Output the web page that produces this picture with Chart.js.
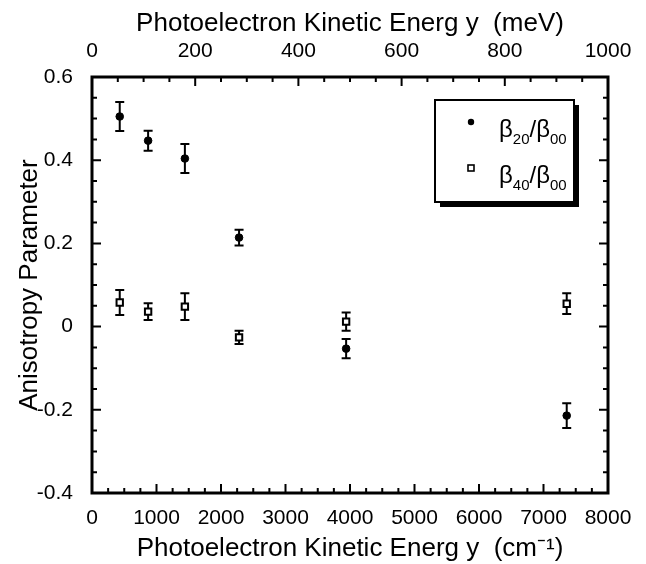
<!DOCTYPE html>
<html>
<head>
<meta charset="utf-8">
<script src="https://cdn.jsdelivr.net/npm/chart.js@4.4.1/dist/chart.umd.min.js"></script>
<style>
  html, body { margin: 0; padding: 0; background: #fff; }
  #wrap { width: 646px; height: 564px; }
</style>
</head>
<body>
<div id="wrap"><canvas id="plot" width="646" height="564"></canvas></div>
<script>
// photoelectron kinetic energy (cm^-1)
const energyCm = [430, 870, 1440, 2280, 3940, 7360];
// beta20 / beta00 with error
const beta20 = [0.505, 0.447, 0.404, 0.214, -0.053, -0.214];
const beta20Err = [0.035, 0.024, 0.035, 0.019, 0.023, 0.03];
// beta40 / beta00 with error
const beta40 = [0.058, 0.036, 0.048, -0.026, 0.012, 0.055];
const beta40Err = [0.03, 0.02, 0.032, 0.016, 0.022, 0.025];

const FONT = "'Liberation Sans', Arial, sans-serif";

function toPoints(xs, ys) {
  return xs.map((x, i) => ({ x: x, y: ys[i] }));
}

const errorBarPlugin = {
  id: "error_bars",
  beforeDatasetsDraw: (chart) => {
    const ctx = chart.ctx;
    const yScale = chart.scales.y;
    ctx.save();
    ctx.strokeStyle = "#000";
    ctx.lineWidth = 2;
    chart.data.datasets.forEach((ds, i) => {
      const meta = chart.getDatasetMeta(i);
      meta.data.forEach((el, j) => {
        const v = ds.data[j].y;
        const e = ds.errors[j];
        const yTop = yScale.getPixelForValue(v + e);
        const yBot = yScale.getPixelForValue(v - e);
        ctx.beginPath();
        ctx.moveTo(el.x, yTop);
        ctx.lineTo(el.x, yBot);
        ctx.moveTo(el.x - 4.5, yTop);
        ctx.lineTo(el.x + 4.5, yTop);
        ctx.moveTo(el.x - 4.5, yBot);
        ctx.lineTo(el.x + 4.5, yBot);
        ctx.stroke();
      });
    });
    ctx.restore();
  },
};

const frameTicksPlugin = {
  id: "frame_ticks",
  afterDraw: (chart) => {
    const ctx = chart.ctx;
    const a = chart.chartArea;
    const x = chart.scales.x;
    const x2 = chart.scales.x2;
    const y = chart.scales.y;
    ctx.save();
    ctx.strokeStyle = "#000";
    ctx.lineWidth = 2;
    ctx.beginPath();
    // bottom axis: major every 1000, minor every 250
    for (let k = 0; k <= 32; k++) {
      const px = x.getPixelForValue(k * 250);
      const len = k % 4 === 0 ? 9 : 5;
      ctx.moveTo(px, a.bottom);
      ctx.lineTo(px, a.bottom - len);
    }
    // top axis: major every 200, minor every 50
    for (let k = 0; k <= 20; k++) {
      const px = x2.getPixelForValue(k * 50);
      const len = k % 4 === 0 ? 9 : 5;
      ctx.moveTo(px, a.top);
      ctx.lineTo(px, a.top + len);
    }
    // left and right: major every 0.2, minor every 0.05
    for (let k = 0; k <= 20; k++) {
      const py = y.getPixelForValue(-0.4 + k * 0.05);
      const len = k % 4 === 0 ? 9 : 5;
      ctx.moveTo(a.left, py);
      ctx.lineTo(a.left + len, py);
      ctx.moveTo(a.right, py);
      ctx.lineTo(a.right - len, py);
    }
    ctx.stroke();
    ctx.lineWidth = 3;
    ctx.strokeRect(a.left, a.top, a.right - a.left, a.bottom - a.top);
    ctx.restore();

    // legend box with drop shadow
    const bx = 435, by = 100, bw = 139, bh = 102;
    ctx.save();
    ctx.fillStyle = "#000";
    ctx.fillRect(bx + 5, by + 5, bw, bh);
    ctx.fillStyle = "#fff";
    ctx.fillRect(bx, by, bw, bh);
    ctx.lineWidth = 2;
    ctx.strokeStyle = "#000";
    ctx.strokeRect(bx, by, bw, bh);

    ctx.fillStyle = "#000";
    ctx.beginPath();
    ctx.arc(471, 122, 3.2, 0, Math.PI * 2);
    ctx.fill();
    ctx.lineWidth = 1.6;
    ctx.strokeRect(468, 165, 6, 6);

    const drawLabel = (sub, baseY) => {
      let cx = 499;
      ctx.textBaseline = "alphabetic";
      ctx.textAlign = "left";
      const big = "24px " + FONT;
      const small = "15px " + FONT;
      const parts = [
        ["\u03B2", big, 0],
        [sub, small, 7],
        ["/\u03B2", big, 0],
        ["00", small, 7],
      ];
      parts.forEach((p) => {
        ctx.font = p[1];
        ctx.fillText(p[0], cx, baseY + p[2]);
        cx += ctx.measureText(p[0]).width;
      });
    };
    drawLabel("20", 137);
    drawLabel("40", 183);
    ctx.restore();
  },
};

const scatterChart = {
  type: "scatter",
  plugins: [errorBarPlugin, frameTicksPlugin],
  data: {
    datasets: [
      {
        label: "\u03B220/\u03B200",
        data: toPoints(energyCm, beta20),
        errors: beta20Err,
        pointStyle: "circle",
        pointRadius: 3.8,
        pointBackgroundColor: "#000",
        pointBorderColor: "#000",
        pointBorderWidth: 1,
      },
      {
        label: "\u03B240/\u03B200",
        data: toPoints(energyCm, beta40),
        errors: beta40Err,
        pointStyle: "rect",
        pointRadius: 4.5,
        pointBackgroundColor: "#fff",
        pointBorderColor: "#000",
        pointBorderWidth: 2,
      },
    ],
  },
  options: {
    responsive: false,
    animation: false,
    devicePixelRatio: 1,
    layout: { padding: 0 },
    plugins: {
      legend: { display: false },
      tooltip: { enabled: false },
    },
    scales: {
      x: {
        type: "linear",
        position: "bottom",
        min: 0,
        max: 8000,
        afterFit: (s) => { s.height = 71; },
        grid: { display: false },
        border: { display: false },
        ticks: {
          stepSize: 1000,
          padding: 5,
          color: "#000",
          maxRotation: 0,
          font: { family: FONT, size: 21 },
          callback: (v) => String(v),
        },
        title: {
          display: true,
          text: "Photoelectron Kinetic Energ y  (cm\u207B\u00B9)",
          color: "#000",
          font: { family: FONT, size: 26 },
          padding: { top: 0, bottom: 0 },
        },
      },
      x2: {
        type: "linear",
        position: "top",
        min: 0,
        max: 1000,
        afterFit: (s) => { s.height = 77; },
        grid: { display: false },
        border: { display: false },
        ticks: {
          stepSize: 200,
          padding: 5,
          color: "#000",
          maxRotation: 0,
          font: { family: FONT, size: 21 },
          callback: (v) => String(v),
        },
        title: {
          display: true,
          text: "Photoelectron Kinetic Energ y  (meV)",
          color: "#000",
          font: { family: FONT, size: 26 },
          padding: { top: 8, bottom: 0 },
        },
      },
      y: {
        type: "linear",
        position: "left",
        min: -0.4,
        max: 0.6,
        afterFit: (s) => { s.width = 92; },
        grid: { display: false },
        border: { display: false },
        ticks: {
          stepSize: 0.2,
          padding: 11,
          color: "#000",
          font: { family: FONT, size: 21 },
          callback: (v) => String(Number(v.toFixed(1))),
        },
        title: {
          display: true,
          text: "Anisotropy Parameter",
          color: "#000",
          font: { family: FONT, size: 26 },
          padding: { top: 14, bottom: 0 },
        },
      },
      y2: {
        type: "linear",
        position: "right",
        min: -0.4,
        max: 0.6,
        afterFit: (s) => { s.width = 38; },
        grid: { display: false },
        border: { display: false },
        ticks: { display: false },
      },
    },
  },
};

const canvas = document.getElementById("plot");
const ctx = canvas.getContext("2d");
const chart = new Chart(ctx, scatterChart);
</script>
</body>
</html>
